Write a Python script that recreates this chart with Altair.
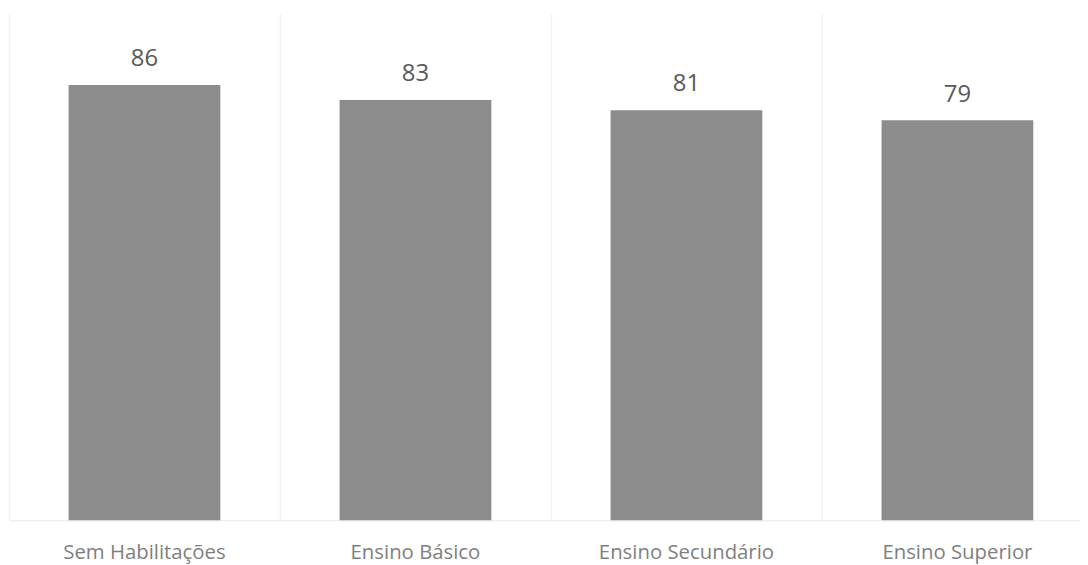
import altair as alt
import pandas as pd

categories = ["Sem Habilitações", "Ensino Básico", "Ensino Secundário", "Ensino Superior"]
values = [86, 83, 81, 79]

df = pd.DataFrame({"cat": categories, "val": values})

PLOT_W = 1079
PLOT_H = 510

x_enc = alt.X(
    "cat:N",
    sort=categories,
    scale=alt.Scale(range=[0, 1092], paddingInner=0, paddingOuter=0),
    axis=alt.Axis(
        title=None,
        labelAngle=0,
        labelFont="Open Sans",
        labelFontSize=20.5,
        labelColor="#7f7f7f",
        labelPadding=23,
        ticks=False,
        domain=True,
        domainColor="#f0f0f0",
        domainWidth=1.5,
        grid=True,
        gridColor="#f2f2f2",
        gridWidth=1.5,
        bandPosition=0,
    ),
)
y_enc = alt.Y(
    "val:Q",
    scale=alt.Scale(domain=[0, 100], nice=False),
    axis=None,
)

bars = alt.Chart(df).mark_bar(
    color="#8c8c8c", width=alt.RelativeBandSize(0.56)
).encode(x=x_enc, y=y_enc)
labels = alt.Chart(df).mark_text(
    font="Open Sans", fontSize=24, color="#595959", dy=-19, baseline="alphabetic"
).encode(
    x=alt.X("cat:N", sort=categories),
    y="val:Q",
    text="val:Q",
)

chart = (
    alt.layer(bars, labels)
    .properties(
        width=PLOT_W,
        height=PLOT_H,
        autosize=alt.AutoSizeParams(type="none"),
        padding={"left": 1, "top": 4, "right": 0, "bottom": 50},
    )
    .configure_view(stroke=None)
    .configure_axis(labelLimit=400)
)

chart.save("out.html", embed_options={"renderer": "svg", "actions": False})
